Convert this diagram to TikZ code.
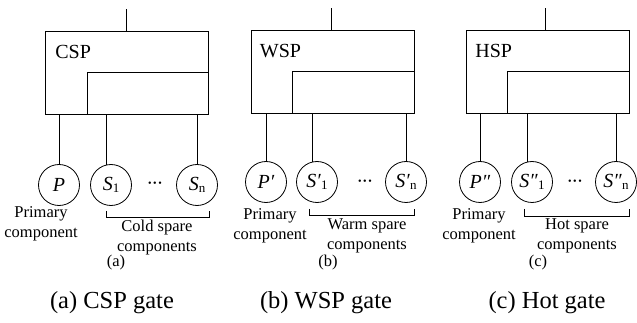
\documentclass[tikz,border=0pt]{standalone}
\usepackage{fontspec}
\setmainfont{Liberation Serif}
\usepackage{tikz}

\newcommand{\compsub}[1]{\raisebox{-1.5pt}{\fontsize{13}{13}\selectfont #1}}
\newcommand{\compdots}{{\fontsize{10}{10}\selectfont\textbullet\,\textbullet\,\textbullet}}

\tikzset{
  gatebox/.style={draw, minimum width=163pt, minimum height=83pt, inner sep=0pt, outer sep=0pt},
  comp/.style={draw, circle, minimum size=41pt, inner sep=0pt, outer sep=0pt, font=\fontsize{20}{20}\selectfont},
  gatelabel/.style={anchor=west, inner sep=0pt, font=\fontsize{20}{20}\selectfont},
  desc/.style={align=center, inner sep=0pt, font=\fontsize{16.5}{20}\selectfont},
  captext/.style={inner sep=0pt, font=\fontsize{24.5}{24.5}\selectfont},
}

\begin{document}
\begin{tikzpicture}[x=1pt, y=-1pt, line width=0.8pt]
\useasboundingbox (0,0) rectangle (637,323);

% CSP gate
\node[gatebox] (csp) at (126.5,72.5) {};
\node[gatelabel] (csplabel) at ([xshift=10pt,yshift=-21pt]csp.north west) {CSP};
\draw ([xshift=42pt]csp.south west) |- ([yshift=-41pt]csp.north east);
\draw (csp.north) -- ([yshift=22pt]csp.north);

\node[comp] (p1) at (59,185) {\textit{P}};
\node[comp] (s1) at (111,185) {\textit{S}\compsub{1}};
\node[comp] (sn) at (197,185) {\textit{S}\compsub{n}};
\node (dots1) at (155,184) {\compdots};

\draw (p1) -- (p1 |- csp.south);
\draw (s1.104) -- (s1.104 |- csp.south);
\draw (sn) -- (sn |- csp.south);

\draw (106,211) |- (209,217) -- (209,211);
\node[desc] (prim1) at (41,224) {Primary\\component};
\node[desc] (spare1) at (157,238) {Cold spare\\components};
\node[desc] (tag1) at (116,263) {(a)};
\node[captext] (cap1) at (112,303) {(a) CSP gate};

% WSP gate
\node[gatebox] (wsp) at (333,72) {};
\node[gatelabel] (wsplabel) at ([xshift=8pt,yshift=-21pt]wsp.north west) {WSP};
\draw ([xshift=41pt]wsp.south west) |- ([yshift=-41pt]wsp.north east);
\draw ([xshift=-2pt]wsp.north) -- ([xshift=-2pt,yshift=22pt]wsp.north);

\node[comp] (p2) at (266,182) {\textit{P′}};
\node[comp] (s2) at (317,182) {\textit{S′}\compsub{1}};
\node[comp] (sn2) at (406,182) {\textit{S′}\compsub{n}};
\node (dots2) at (365,182) {\compdots};

\draw (p2) -- (p2 |- wsp.south);
\draw (s2.104) -- (s2.104 |- wsp.south);
\draw (sn2) -- (sn2 |- wsp.south);

\draw (309,209) |- (414,215) -- (414,209);
\node[desc] (prim2) at (270,226) {Primary\\component};
\node[desc] (spare2) at (367,236) {Warm spare\\components};
\node[desc] (tag2) at (328,263) {(b)};
\node[captext] (cap2) at (326,303) {(b) WSP gate};

% HSP gate
\node[gatebox] (hsp) at (547.5,71.5) {};
\node[gatelabel] (hsplabel) at ([xshift=9pt,yshift=-21pt]hsp.north west) {HSP};
\draw ([xshift=41pt]hsp.south west) |- ([yshift=-41pt]hsp.north east);
\draw ([xshift=-2pt]hsp.north) -- ([xshift=-2pt,yshift=22pt]hsp.north);

\node[comp] (p3) at (480,182) {\textit{P″}};
\node[comp] (s3) at (532,182) {\textit{S″}\compsub{1}};
\node[comp] (sn3) at (616,182) {\textit{S″}\compsub{n}};
\node (dots3) at (575,182) {\compdots};

\draw (p3) -- (p3 |- hsp.south);
\draw (s3.104) -- (s3.104 |- hsp.south);
\draw (sn3) -- (sn3 |- hsp.south);

\draw (524,209) |- (629,216) -- (629,209);
\node[desc] (prim3) at (479,226) {Primary\\component};
\node[desc] (spare3) at (577,236) {Hot spare\\components};
\node[desc] (tag3) at (538,263) {(c)};
\node[captext] (cap3) at (547,303) {(c) Hot gate};
\end{tikzpicture}
\end{document}
